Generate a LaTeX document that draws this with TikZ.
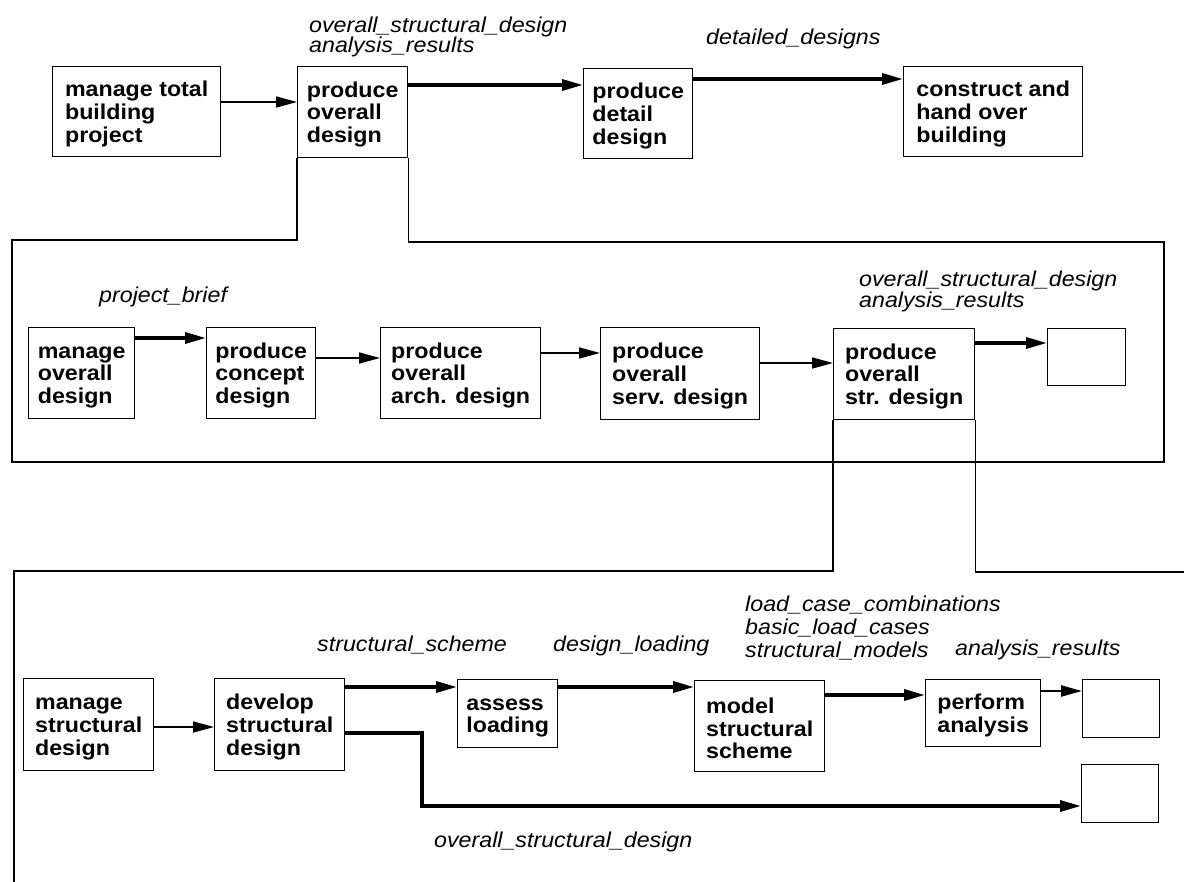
\documentclass[tikz,border=0pt]{standalone}
\usepackage{fontspec}
\setmainfont{Liberation Sans}[FakeStretch=1.08]
\usetikzlibrary{arrows.meta}

\tikzset{
  box/.style={draw, line width=1.4pt, rectangle, anchor=north west,
    inner xsep=2pt, inner ysep=0pt, align=left,
    font=\bfseries\fontsize{21.5}{22.8}\selectfont},
  emptybox/.style={draw, line width=1.4pt, rectangle, anchor=north west, inner sep=0pt},
  lbl/.style={anchor=base west, inner sep=0pt, font=\itshape\fontsize{21.5}{22}\selectfont},
  tip/.style={-{Triangle[length=21pt,width=11pt]}},
  thinflow/.style={tip, line width=1.6pt},
  midflow/.style={tip, line width=2.4pt},
  thickflow/.style={tip, line width=3.4pt},
  frame/.style={line width=1.5pt}
}
% first line strut pushes the text block slightly down inside its box
\newcommand{\firstline}{\rule{0pt}{20pt}}

\begin{document}
\begin{tikzpicture}[x=1pt, y=-1pt]
\useasboundingbox (0,0) rectangle (1184,882);

% ---------- top level ----------
\node[box, minimum width=168pt, minimum height=90pt] (A) at (52,66) {\firstline manage total\\building\\project};
\node[box, minimum width=110pt, minimum height=91pt] (B) at (297,66) {\firstline produce\\overall\\design};
\node[box, minimum width=109pt, minimum height=90pt] (C) at (583,68) {\firstline produce\\detail\\design};
\node[box, minimum width=179pt, minimum height=90pt] (D) at (903,66) {\firstline construct and\\hand over\\building};

\draw[thinflow]  (A.east |- 0,102) -- (B.west |- 0,102);
\draw[thickflow] (B.east |- 0,85) -- (C.west |- 0,85);
\draw[thickflow] (C.east |- 0,79) -- (D.west |- 0,79);

\node[lbl] (t1) at (309,33) {overall\_structural\_design};
\node[lbl] (t2) at (309,53) {analysis\_results};
\node[lbl] (t3) at (706,45) {detailed\_designs};

% ---------- decomposition of "produce overall design" ----------
\draw[frame] (B.south west) -- (B.south west |- 0,240) -- (12,240) -- (12,462)
  -- (1164,462) -- (1164,242) -- (B.south east |- 0,242) -- (B.south east);

\node[box, minimum width=106pt, minimum height=91pt] (M1) at (28,327) {\firstline manage\\overall\\design};
\node[box, minimum width=109pt, minimum height=91pt] (M2) at (206,327) {\firstline produce\\concept\\design};
\node[box, minimum width=160pt, minimum height=91pt] (M3) at (380,327) {\firstline produce\\overall\\arch. design};
\node[box, minimum width=159pt, minimum height=92pt] (M4) at (600,327) {\firstline produce\\overall\\serv. design};
\node[box, minimum width=141pt, minimum height=91pt] (M5) at (833,328) {\firstline produce\\overall\\str. design};
\node[emptybox, minimum width=78pt, minimum height=57pt] (MO) at (1047,328) {};

\draw[thickflow] (M1.east |- 0,338) -- (M2.west |- 0,338);
\draw[thinflow]  (M2.east |- 0,358) -- (M3.west |- 0,358);
\draw[thinflow]  (M3.east |- 0,353) -- (M4.west |- 0,353);
\draw[thinflow]  (M4.east |- 0,363) -- (M5.west |- 0,363);
\draw[thickflow] (M5.east |- 0,343) -- (MO.west |- 0,343);

\node[lbl] (m1) at (99,303) {project\_brief};
\node[lbl] (m2) at (859,287) {overall\_structural\_design};
\node[lbl] (m3) at (859,308) {analysis\_results};

% ---------- decomposition of "produce overall str. design" ----------
\draw[frame] (M5.south west) -- (M5.south west |- 0,571) -- (14,571) -- (14,882);
\draw[frame] (M5.south east) -- (M5.south east |- 0,572) -- (1184,572);

\node[box, minimum width=130pt, minimum height=92pt] (S1) at (23,678) {\firstline manage\\structural\\design};
\node[box, minimum width=130pt, minimum height=92pt] (S2) at (214,678) {\firstline develop\\structural\\design};
\node[box, minimum width=100pt, minimum height=68pt] (S3) at (457,679) {\firstline assess\\loading};
\node[box, minimum width=130pt, minimum height=91pt] (S4) at (694,680) {\firstline model\\structural\\scheme};
\node[box, minimum width=115pt, minimum height=67pt] (S5) at (925,679) {\firstline perform\\analysis};
\node[emptybox, minimum width=77pt, minimum height=58pt] (O1) at (1082,679) {};
\node[emptybox, minimum width=77pt, minimum height=58pt] (O2) at (1081,764) {};

\draw[thinflow]  (S1.east |- 0,727) -- (S2.west |- 0,727);
\draw[thickflow] (S2.east |- 0,687) -- (S3.west |- 0,687);
\draw[thickflow] (S3.east |- 0,687) -- (S4.west |- 0,687);
\draw[thickflow] (S4.east |- 0,695) -- (S5.west |- 0,695);
\draw[midflow]   (S5.east |- 0,691) -- (O1.west |- 0,691);
\draw[thickflow] (S2.east |- 0,733) -- (422,733) -- (422,806) -- (O2.west |- 0,806);

\node[lbl] (b1) at (317,651) {structural\_scheme};
\node[lbl] (b2) at (553,651) {design\_loading};
\node[lbl] (b3) at (745,611) {load\_case\_combinations};
\node[lbl] (b4) at (745,634) {basic\_load\_cases};
\node[lbl] (b5) at (745,657) {structural\_models};
\node[lbl] (b6) at (955,655) {analysis\_results};
\node[lbl] (b7) at (434,847) {overall\_structural\_design};
\end{tikzpicture}
\end{document}
